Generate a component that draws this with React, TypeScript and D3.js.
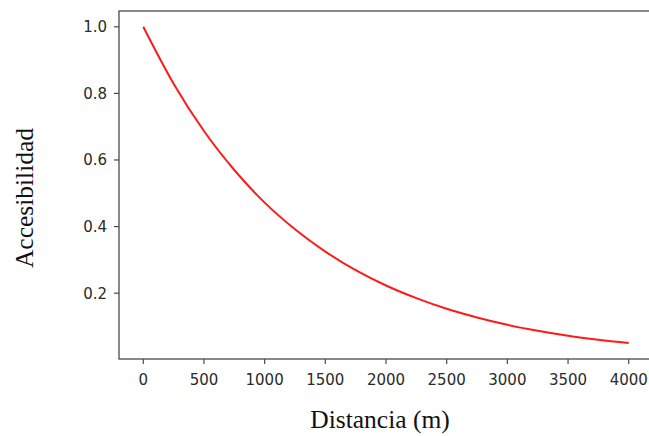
import React, { useRef, useEffect } from 'react';
import * as d3 from 'd3';

// distance (m) and accessibility
const distances = [0, 250, 500, 750, 1000, 1250, 1500, 1750, 2000, 2250, 2500, 2750, 3000, 3250, 3500, 3750, 4000];
const access = [1.0, 0.829, 0.687, 0.57, 0.472, 0.392, 0.325, 0.269, 0.223, 0.185, 0.153, 0.127, 0.105, 0.087, 0.072, 0.06, 0.05];
const xTicks = [0, 500, 1000, 1500, 2000, 2500, 3000, 3500, 4000];
const yTicks = [0.2, 0.4, 0.6, 0.8, 1.0];

const W = 649;
const H = 436;

const App = () => {
  const svgRef = useRef<SVGSVGElement>(null);

  useEffect(() => {
    document.body.style.margin = '0';
    const svg = d3.select(svgRef.current);
    svg.selectAll('*').remove();

    const left = 119, right = 653, top = 11, bottom = 359;

    const x = d3.scaleLinear().domain([-200, 4200]).range([left, right]);
    const y = d3.scaleLinear().domain([0.0023, 1.0475]).range([bottom, top]);

    const tickFont = 'DejaVu Sans, sans-serif';
    const textColor = '#2a2a2a';

    // line
    const line = d3.line<number>()
      .x((d, i) => x(distances[i]))
      .y(d => y(d))
      .curve(d3.curveMonotoneX);

    svg.append('path')
      .datum(access)
      .attr('d', line)
      .attr('fill', 'none')
      .attr('stroke', '#ff1a1a')
      .attr('stroke-width', 2);

    // frame
    svg.append('rect')
      .attr('x', left)
      .attr('y', top)
      .attr('width', right - left)
      .attr('height', bottom - top)
      .attr('fill', 'none')
      .attr('stroke', '#4a4a4a')
      .attr('stroke-width', 1.3);

    // x axis
    const gx = svg.append('g');
    gx.selectAll('line')
      .data(xTicks)
      .enter()
      .append('line')
      .attr('x1', d => x(d))
      .attr('x2', d => x(d))
      .attr('y1', bottom)
      .attr('y2', bottom + 5)
      .attr('stroke', '#4a4a4a')
      .attr('stroke-width', 1.2);
    gx.selectAll('text')
      .data(xTicks)
      .enter()
      .append('text')
      .attr('x', d => x(d))
      .attr('y', 385)
      .attr('text-anchor', 'middle')
      .style('font-family', tickFont)
      .style('font-size', '15px')
      .style('fill', textColor)
      .text(d => String(d));

    // y axis
    const gy = svg.append('g');
    gy.selectAll('line')
      .data(yTicks)
      .enter()
      .append('line')
      .attr('x1', left - 5)
      .attr('x2', left)
      .attr('y1', d => y(d))
      .attr('y2', d => y(d))
      .attr('stroke', '#4a4a4a')
      .attr('stroke-width', 1.2);
    gy.selectAll('text')
      .data(yTicks)
      .enter()
      .append('text')
      .attr('x', 107)
      .attr('y', d => y(d))
      .attr('dy', '0.36em')
      .attr('text-anchor', 'end')
      .style('font-family', tickFont)
      .style('font-size', '15px')
      .style('fill', textColor)
      .text(d => d.toFixed(1));

    // axis titles
    svg.append('text')
      .attr('x', 380)
      .attr('y', 428)
      .attr('text-anchor', 'middle')
      .style('font-family', 'Liberation Serif, serif')
      .style('font-size', '25.5px')
      .style('fill', '#111')
      .text('Distancia (m)');

    svg.append('text')
      .attr('transform', 'translate(33,198) rotate(-90)')
      .attr('text-anchor', 'middle')
      .style('font-family', 'Liberation Serif, serif')
      .style('font-size', '25.5px')
      .style('fill', '#111')
      .text('Accesibilidad');
  }, []);

  return (
    <svg
      ref={svgRef}
      width={W}
      height={H}
      viewBox={`0 0 ${W} ${H}`}
      style={{ display: 'block', background: 'white' }}
    ></svg>
  );
};

export default App;
